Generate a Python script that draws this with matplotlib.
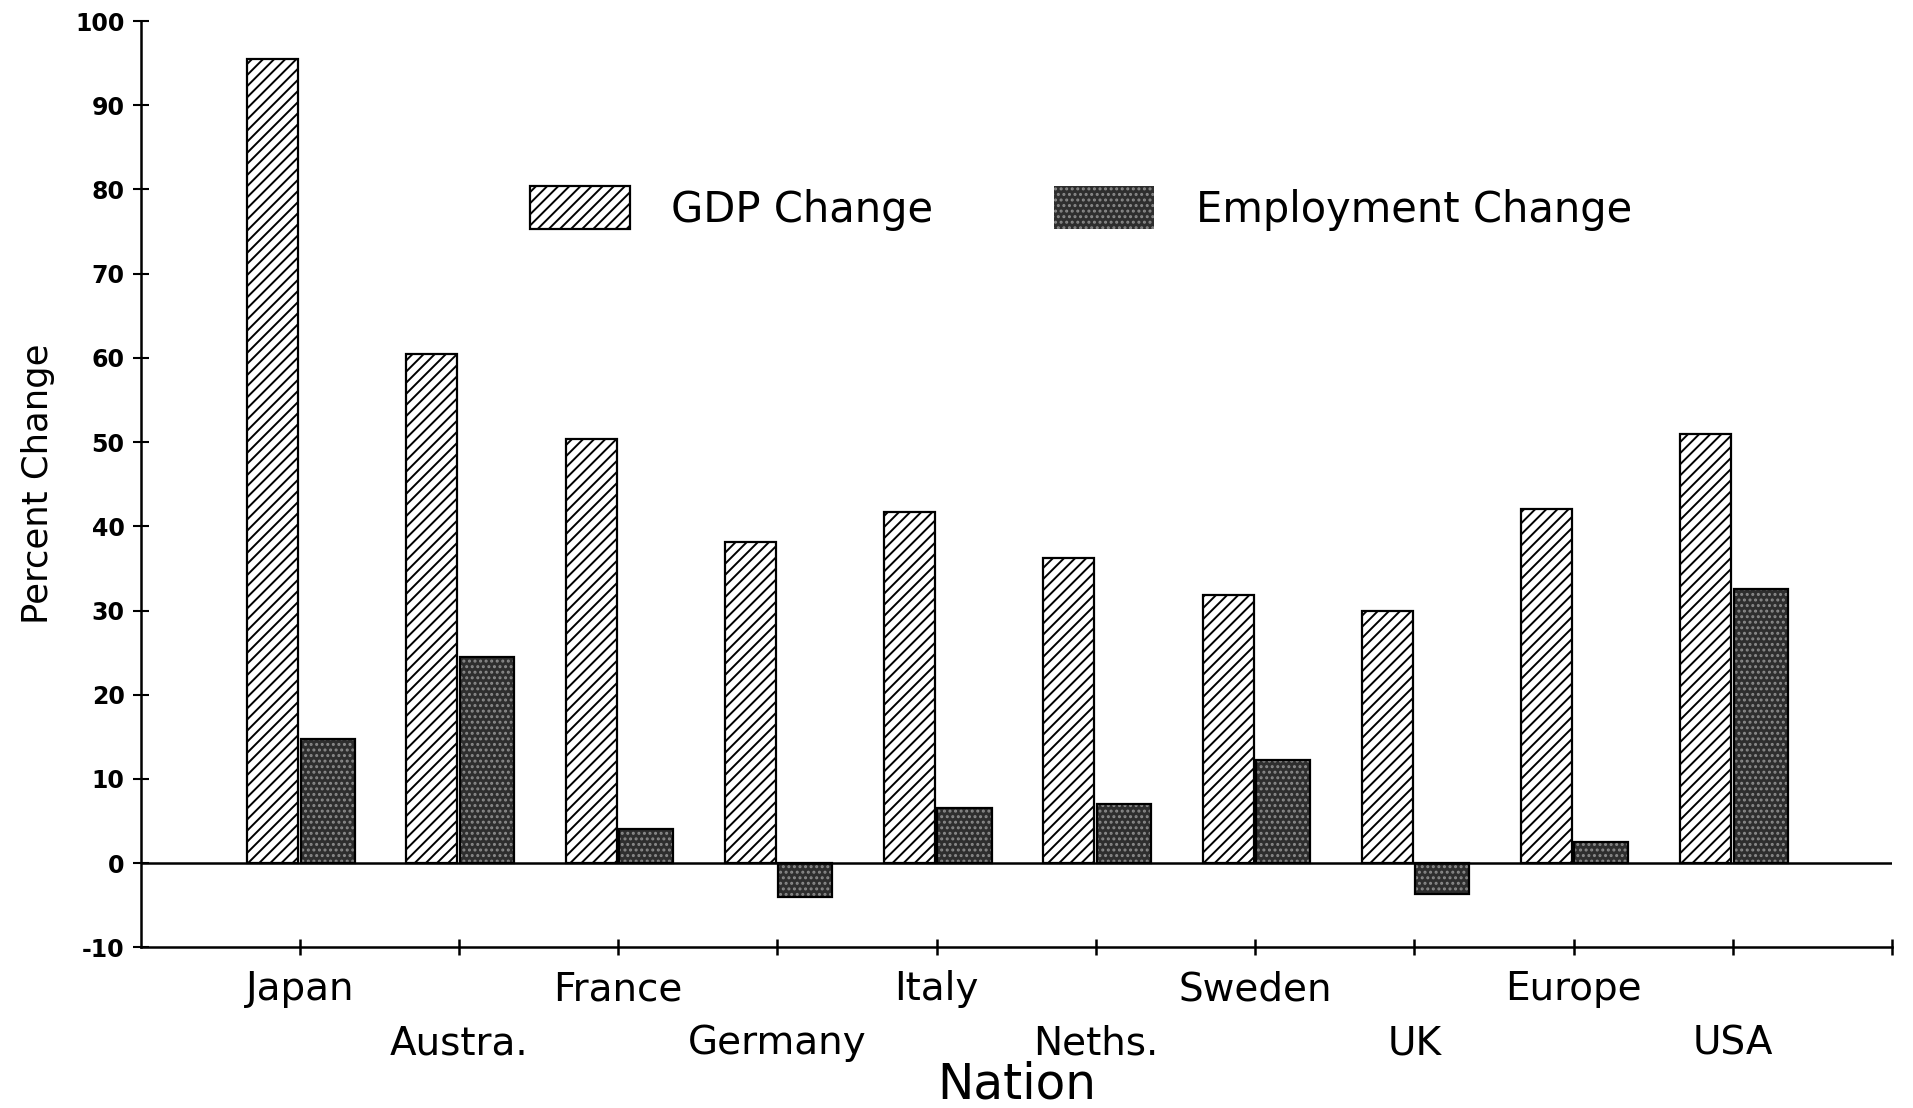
import matplotlib.pyplot as plt
import numpy as np

# percent change by nation
nations = ["Japan", "Austra.", "France", "Germany", "Italy",
           "Neths.", "Sweden", "UK", "Europe", "USA"]
gdp_change = [95.5, 60.5, 50.4, 38.1, 41.7, 36.2, 31.8, 30.0, 42.1, 51.0]
emp_change = [14.7, 24.5, 4.0, -4.0, 6.5, 7.0, 12.2, -3.7, 2.5, 32.6]
y_ticks = [-10, 0, 10, 20, 30, 40, 50, 60, 70, 80, 90, 100]

plt.rcParams['font.family'] = ['DejaVu Sans']
plt.rcParams['hatch.linewidth'] = 1.4

fig = plt.figure(figsize=(19.13, 11.08), dpi=100)
ax = fig.add_axes([0.0735, 0.145, 0.9155, 0.836])

x = np.arange(1, len(nations) + 1)

# GDP: white with diagonal hatch
gdp_bars = ax.bar(x - 0.17, gdp_change, 0.32, color='white', edgecolor='black',
                  hatch='///', linewidth=1.6, label='GDP Change', zorder=3)
# Employment: dark fill with light speckle
emp_bars = ax.bar(x + 0.175, emp_change, 0.34, color='#2e2e2e', edgecolor='#8a8a8a',
                  hatch='...', linewidth=0, label='Employment Change', zorder=3)
ax.bar(x + 0.175, emp_change, 0.34, fill=False, edgecolor='black', linewidth=1.6, zorder=4)

ax.axhline(0, color='black', linewidth=1.8, zorder=5)

ax.set_xlim(0, 11)
ax.set_ylim(-10, 100)
ax.spines['top'].set_visible(False)
ax.spines['right'].set_visible(False)
ax.spines['left'].set_linewidth(1.8)
ax.spines['bottom'].set_linewidth(1.8)

ax.set_yticks(y_ticks)
ax.set_yticklabels([str(v) for v in y_ticks], fontsize=17, fontweight='bold')
ax.tick_params(axis='y', direction='inout', length=11, width=1.5, pad=6)

ax.set_xticks(list(x) + [11])
ax.set_xticklabels(nations + [""], fontsize=28)
ax.tick_params(axis='x', direction='inout', length=11, width=1.8)
for i, tick in enumerate(ax.xaxis.get_major_ticks()):
    tick.set_pad(11 if i % 2 == 0 else 50)

ax.set_ylabel('Percent Change', fontsize=25.5)
ax.yaxis.set_label_coords(-0.049, 0.5)
ax.set_xlabel('Nation', fontsize=35)
ax.xaxis.set_label_coords(0.5, -0.122)

fig.legend(handles=[gdp_bars, emp_bars], loc='center', bbox_to_anchor=(0.565, 0.812),
           ncol=2, frameon=False, fontsize=30, handlelength=2.4, handleheight=1.2,
           handletextpad=1.0, columnspacing=2.9)

plt.savefig("out.png")
